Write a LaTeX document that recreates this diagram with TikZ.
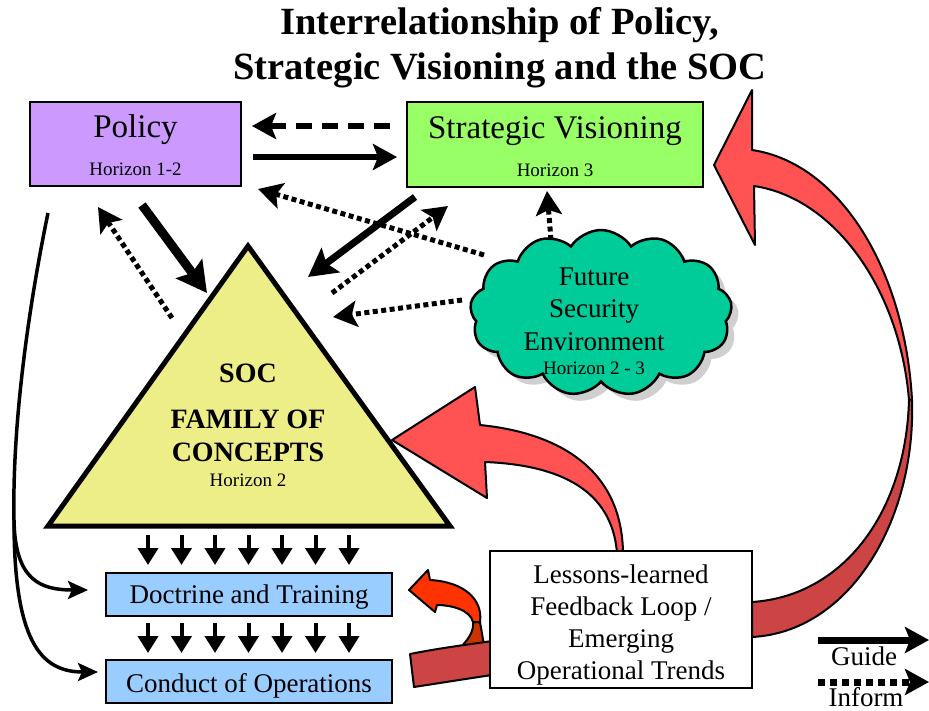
\documentclass[tikz,border=0pt]{standalone}
\usepackage{fontspec}
\setmainfont{Liberation Serif}
\usetikzlibrary{arrows.meta,shapes.symbols,shadows}

\definecolor{policycol}{HTML}{CC99FF}
\definecolor{visioncol}{HTML}{99FF66}
\definecolor{cloudcol}{HTML}{00CC99}
\definecolor{pyramidcol}{HTML}{EEEE88}
\definecolor{levelcol}{HTML}{99CCFF}
\definecolor{lightred}{HTML}{FF5252}
\definecolor{darkred}{HTML}{CC4444}
\definecolor{brightorange}{HTML}{FF3300}
\definecolor{deeporange}{HTML}{CC3300}

\begin{document}
\begin{tikzpicture}[x=1pt,y=-1pt,
  boxframe/.style={draw=black, line width=2.5pt, inner sep=0pt},
  titletext/.style={font=\fontsize{38.5}{45}\selectfont\bfseries, align=center},
  bigtext/.style={font=\fontsize{33}{36}\selectfont, inner sep=1pt},
  bodytext/.style={font=\fontsize{27}{32}\selectfont, align=center, inner sep=1pt},
  boldtext/.style={font=\fontsize{28}{33}\selectfont\bfseries, align=center, inner sep=1pt},
  smalltext/.style={font=\fontsize{19}{21}\selectfont, inner sep=1pt},
  headtip/.style={-{Stealth[length=24pt,width=26pt,inset=5pt]}},
  solidarrow/.style={headtip, line width=5.5pt},
  dashedarrow/.style={headtip, line width=5.5pt, dash pattern=on 16pt off 10pt},
  dottedarrow/.style={headtip, line width=5pt, dash pattern=on 5pt off 3.5pt},
  downarrow/.style={-{Triangle[length=17pt,width=20pt]}, line width=4pt},
  feedline/.style={-{Stealth[length=20pt,width=18pt,inset=4pt]}, line width=3.5pt},
  blockarrow/.style={draw=black, line width=2pt, line join=round},
]
\useasboundingbox (0,0) rectangle (929,710);

% title
\node[titletext] (title) at (500,48)
  {Interrelationship of Policy,\\Strategic Visioning and the SOC};

% policy and strategic visioning boxes
\node[boxframe, fill=policycol, minimum width=211pt, minimum height=84pt] (policy) at (135.5,144) {};
\node[bigtext, anchor=base] (policyname) at (135.5,137) {Policy};
\node[smalltext, anchor=base] (policyhor) at (135.5,175) {Horizon 1-2};

\node[boxframe, fill=visioncol, minimum width=296pt, minimum height=85pt] (vision) at (555,144.5) {};
\node[bigtext, anchor=base] (visionname) at (555,138) {Strategic Visioning};
\node[smalltext, anchor=base] (visionhor) at (555,176) {Horizon 3};

% future security environment cloud
\node[cloud, cloud puffs=13, cloud puff arc=115, minimum width=262pt, minimum height=166pt,
      draw=black, line width=2.5pt, fill=cloudcol,
      drop shadow={shadow xshift=7pt, shadow yshift=-7pt, fill=gray!75}] (fse) at (601,313) {};
\node[bodytext, anchor=base] (fsetext) at (594,285) {Future};
\node[bodytext, anchor=base] (fsetext2) at (594,317.5) {Security};
\node[bodytext, anchor=base] (fsetext3) at (594,350) {Environment};
\node[smalltext, anchor=base] (fsehor) at (594,374) {Horizon 2 - 3};

% SOC pyramid
\coordinate (triL) at (48,526);
\coordinate (triA) at (248,246);
\coordinate (triR) at (450,526);
\draw[line width=5pt, line join=miter, fill=pyramidcol] (triL) -- (triA) -- (triR) -- cycle;
\node[boldtext, anchor=base] (soc) at (248,382) {SOC};
\node[boldtext, anchor=base] (family) at (248,428) {FAMILY OF};
\node[boldtext, anchor=base] (concepts) at (248,461) {CONCEPTS};
\node[smalltext, anchor=base] (trihor) at (248,486) {Horizon 2};

% feedback arrows (drawn below the boxes they start from)
% large loop up to strategic visioning
\path[blockarrow, fill=darkred]
  (912,400) .. controls (916,520) and (850,632) .. (752,637)
  -- (752,602) .. controls (845,596) and (906,510) .. (909,400) -- cycle;
\path[blockarrow, fill=lightred]
  (714,165) -- (752,90) -- (752,150)
  .. controls (840,163) and (905,270) .. (912,400)
  -- (909,400) .. controls (900,290) and (835,198) .. (754,186)
  -- (755,245) -- cycle;
% loop to the pyramid
\path[blockarrow, fill=lightred]
  (392,440) -- (475,387) -- (480,425)
  .. controls (560,433) and (622,470) .. (623,553)
  -- (617,553) .. controls (612,490) and (560,465) .. (485,462)
  -- (487,498) -- cycle;
% short loop to doctrine and training
\path[blockarrow, fill=deeporange]
  (480,622) -- (484,645) -- (458,650) .. controls (468,640) and (474,632) .. (473,622) -- cycle;
\path[blockarrow, fill=brightorange]
  (409,590) -- (428,570) -- (430,580)
  .. controls (465,582) and (483,600) .. (480,622)
  -- (473,622) .. controls (470,610) and (452,605) .. (437,605)
  -- (435,612) -- cycle;
\path[blockarrow, fill=darkred]
  (410,654) .. controls (440,648) and (465,645) .. (492,641)
  -- (492,675) .. controls (465,679) and (440,683) .. (414,687) -- cycle;

% lower levels
\node[boxframe, fill=levelcol, minimum width=286pt, minimum height=43pt] (doctrine) at (249,594.5) {};
\node[bodytext, anchor=base] (doctrinetext) at (249,603) {Doctrine and Training};
\node[boxframe, fill=levelcol, minimum width=286pt, minimum height=43pt] (conduct) at (249,681.5) {};
\node[bodytext, anchor=base] (conducttext) at (249,692) {Conduct of Operations};

\node[boxframe, line width=2pt, fill=white, minimum width=262pt, minimum height=137pt] (lessons) at (621,619.5) {};
\node[bodytext] (lessonstext) at (621,625)
  {Lessons-learned\\Feedback Loop /\\Emerging\\Operational Trends};

% guide / inform connectors between policy, visioning, environment and pyramid
\coordinate (vpS) at (390,126);   \coordinate (vpE) at (252,126);
\coordinate (pvS) at (253,157);   \coordinate (pvE) at (397,157);
\coordinate (fpS) at (484,255);   \coordinate (fpE) at (258,189);
\coordinate (vtS) at (415,197);   \coordinate (vtE) at (308,277);
\coordinate (tvS) at (332,293);   \coordinate (tvE) at (448,206);
\coordinate (ftS) at (462,300);   \coordinate (ftE) at (333,317);
\coordinate (fvS) at (551,240);   \coordinate (fvE) at (547,191);
\coordinate (ptS) at (142,205);   \coordinate (ptE) at (207,293);
\coordinate (tpS) at (172,318);   \coordinate (tpE) at (98,207);

\draw[dashedarrow] (vpS) -- (vpE);
\draw[solidarrow] (pvS) -- (pvE);
\draw[dottedarrow] (fpS) -- (fpE);
\draw[solidarrow, line width=7pt, -{Stealth[length=28pt,width=30pt,inset=5pt]}] (vtS) -- (vtE);
\draw[dottedarrow] (tvS) -- (tvE);
\draw[dottedarrow] (ftS) -- (ftE);
\draw[dottedarrow] (fvS) -- (fvE);
\draw[solidarrow, line width=9pt, -{Stealth[length=30pt,width=32pt,inset=5pt]}] (ptS) -- (ptE);
\draw[dottedarrow] (tpS) -- (tpE);

% policy guides both lower levels directly
\coordinate (pdS) at (48,213);
\coordinate (pdFork) at (14,520);
\coordinate (pdDoc) at (88,590);
\coordinate (pdOps) at (98,672);
\draw[line width=3.5pt] (pdS) .. controls (30,300) and (12,420) .. (pdFork);
\draw[feedline] (pdFork) .. controls (15,580) and (40,590) .. (pdDoc);
\draw[feedline] (pdFork) .. controls (14,640) and (40,672) .. (pdOps);

% pyramid drives doctrine, doctrine drives operations
\foreach \i in {0,...,6} {
  \coordinate (dA\i) at (148+33.5*\i,535);
  \coordinate (dB\i) at (148+33.5*\i,565);
  \coordinate (dC\i) at (148+33.5*\i,623);
  \coordinate (dD\i) at (148+33.5*\i,653);
  \draw[downarrow] (dA\i) -- (dB\i);
  \draw[downarrow] (dC\i) -- (dD\i);
}

% legend
\coordinate (lgS) at (818,640);  \coordinate (lgE) at (929,640);
\coordinate (liS) at (818,682);  \coordinate (liE) at (929,682);
\draw[headtip, line width=7pt] (lgS) -- (lgE);
\node[bodytext, anchor=base] (guidetext) at (864,665) {Guide};
\draw[headtip, line width=7pt, dash pattern=on 7pt off 5pt] (liS) -- (liE);
\node[bodytext, anchor=base] (informtext) at (866,706) {Inform};
\end{tikzpicture}
\end{document}
